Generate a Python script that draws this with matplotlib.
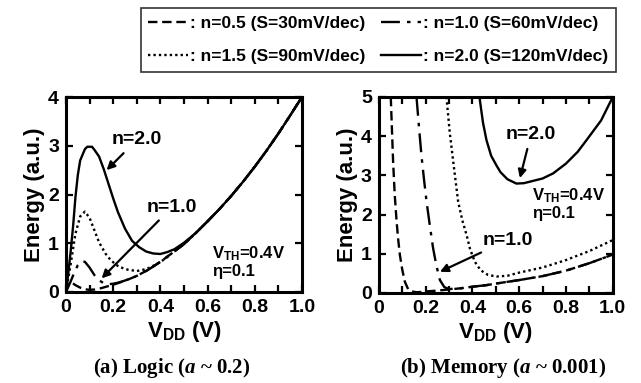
import matplotlib.pyplot as plt
from matplotlib.lines import Line2D

# ---- datos ----
# curva comun (todas las n convergen) - (a) Logic
comun_a_x = [0.55, 0.6, 0.65, 0.7, 0.75, 0.8, 0.85, 0.9, 0.95, 1.0]
comun_a_y = [1.21, 1.45, 1.7, 1.97, 2.26, 2.57, 2.9, 3.25, 3.62, 4.0]

a_n05_x = [0, 0.008, 0.015, 0.025, 0.04, 0.06, 0.08, 0.1, 0.12, 0.15, 0.2, 0.25, 0.3, 0.35, 0.4, 0.45, 0.5]
a_n05_y = [0, 0.15, 0.2, 0.19, 0.14, 0.09, 0.055, 0.045, 0.05, 0.08, 0.15, 0.23, 0.33, 0.46, 0.62, 0.8, 0.98]

a_n10_x = [0, 0.02, 0.035, 0.05, 0.065, 0.08, 0.1, 0.12, 0.14, 0.16, 0.18, 0.2, 0.22, 0.25, 0.3, 0.35, 0.4, 0.45, 0.5]
a_n10_y = [0, 0.22, 0.4, 0.55, 0.63, 0.62, 0.5, 0.35, 0.24, 0.18, 0.16, 0.17, 0.19, 0.235, 0.33, 0.46, 0.62, 0.8, 0.98]

a_n15_x = [0, 0.02, 0.04, 0.06, 0.08, 0.1, 0.12, 0.14, 0.167, 0.19, 0.223, 0.26, 0.3, 0.34, 0.38, 0.42, 0.46, 0.5]
a_n15_y = [0, 0.58, 1.2, 1.55, 1.65, 1.52, 1.27, 1.02, 0.79, 0.65, 0.52, 0.46, 0.43, 0.47, 0.56, 0.68, 0.84, 0.99]

a_n20_x = [0, 0.01, 0.02, 0.03, 0.04, 0.05, 0.06, 0.08, 0.09, 0.11, 0.12, 0.14, 0.16, 0.18, 0.2, 0.22,
           0.25, 0.28, 0.31, 0.34, 0.37, 0.4, 0.43, 0.46, 0.5]
a_n20_y = [0, 0.4, 0.85, 1.35, 1.95, 2.4, 2.7, 2.93, 2.98, 2.98, 2.92, 2.78, 2.52, 2.22, 1.92, 1.64,
           1.3, 1.05, 0.92, 0.83, 0.79, 0.78, 0.82, 0.88, 1.01]

# (b) Memory
comun_b_x = [0.35, 0.4, 0.46, 0.5, 0.6, 0.7, 0.8, 0.9, 1.0]
comun_b_y = [0.12, 0.16, 0.2, 0.24, 0.33, 0.43, 0.57, 0.76, 0.98]

b_n05_x = [0.051, 0.061, 0.068, 0.076, 0.083, 0.09, 0.1, 0.111, 0.125, 0.14, 0.16, 0.18, 0.2, 0.25, 0.3]
b_n05_y = [5.0, 3.35, 2.5, 1.82, 1.35, 0.97, 0.6, 0.29, 0.1, 0.04, 0.02, 0.025, 0.04, 0.06, 0.09]

b_n10_x = [0.161, 0.172, 0.182, 0.193, 0.204, 0.218, 0.232, 0.246, 0.261, 0.28, 0.3]
b_n10_y = [5.0, 4.2, 3.52, 2.9, 2.33, 1.72, 1.14, 0.7, 0.33, 0.15, 0.1]

b_n15_x = [0.289, 0.303, 0.318, 0.339, 0.357, 0.375, 0.39, 0.41, 0.435, 0.467, 0.503, 0.55, 0.6, 0.7, 0.8, 0.9, 1.0]
b_n15_y = [5.0, 4.1, 3.35, 2.33, 1.85, 1.48, 1.12, 0.8, 0.58, 0.46, 0.42, 0.44, 0.52, 0.65, 0.84, 1.07, 1.35]

b_n20_x = [0.43, 0.445, 0.46, 0.48, 0.503, 0.52, 0.55, 0.588, 0.62, 0.66, 0.7, 0.745, 0.8, 0.85, 0.888, 0.95, 1.0]
b_n20_y = [5.0, 4.35, 3.9, 3.5, 3.25, 3.08, 2.9, 2.79, 2.8, 2.86, 2.92, 3.05, 3.3, 3.6, 3.9, 4.4, 5.0]

etiquetas = [": n=0.5 (S=30mV/dec)", ": n=1.0 (S=60mV/dec)",
             ": n=1.5 (S=90mV/dec)", ": n=2.0 (S=120mV/dec)"]

estilos = [(0, (4, 2)), (0, (8, 3, 1.5, 3)), (0, (1, 1.3)), "-"]

plt.rcParams["font.family"] = "Liberation Sans"
plt.rcParams["font.weight"] = "bold"
plt.rcParams["mathtext.fontset"] = "custom"
plt.rcParams["mathtext.rm"] = "Liberation Serif:bold"
plt.rcParams["mathtext.sf"] = "Liberation Sans:bold"
plt.rcParams["mathtext.bf"] = "Liberation Sans:bold"
plt.rcParams["mathtext.it"] = "Liberation Serif:italic"


def preparar_ejes(ax, ymax):
    ax.set_xlim(0, 1.0)
    ax.set_ylim(0, ymax)
    ax.set_xticks([0, 0.2, 0.4, 0.6, 0.8, 1.0])
    ax.set_xticklabels(["0", "0.2", "0.4", "0.6", "0.8", "1.0"])
    ax.set_xticks([0.1, 0.3, 0.5, 0.7, 0.9], minor=True)
    ax.set_yticks(range(0, ymax + 1))
    ax.tick_params(which="both", direction="in", top=True, right=True,
                   length=5, width=1.6, labelsize=14, pad=5)
    for s in ax.spines.values():
        s.set_linewidth(2.2)
    ax.set_xlabel(r"$\mathsf{V_{DD}}$ (V)", fontsize=16, fontweight="bold", labelpad=2)
    ax.set_ylabel("Energy (a.u.)", fontsize=16, fontweight="bold", labelpad=2)


fig = plt.figure(figsize=(6.41, 3.83), dpi=100)
ax1 = fig.add_axes([0.103, 0.2376, 0.368, 0.509])
ax2 = fig.add_axes([0.591, 0.235, 0.365, 0.512])

lw = 1.7
series_a = [(a_n05_x, a_n05_y), (a_n10_x, a_n10_y), (a_n15_x, a_n15_y), (a_n20_x, a_n20_y)]
for (xs, ys), ls in zip(series_a, estilos):
    ax1.plot(xs + comun_a_x, ys + comun_a_y, color="k", lw=lw, linestyle=ls)

series_b = [(b_n05_x, b_n05_y), (b_n10_x, b_n10_y)]
for (xs, ys), ls in zip(series_b, estilos[:2]):
    ax2.plot(xs + comun_b_x, ys + comun_b_y, color="k", lw=lw, linestyle=ls)
ax2.plot(b_n15_x, b_n15_y, color="k", lw=lw, linestyle=estilos[2])
ax2.plot(b_n20_x, b_n20_y, color="k", lw=lw, linestyle=estilos[3])

preparar_ejes(ax1, 4)
preparar_ejes(ax2, 5)

flecha = dict(arrowstyle="-|>", color="k", lw=1.6, mutation_scale=12, shrinkA=2, shrinkB=0)
ax1.annotate("n=2.0", xy=(0.172, 2.5), xytext=(0.30, 3.12), fontsize=14, fontweight="bold",
             ha="center", va="center", arrowprops=flecha)
ax1.annotate("n=1.0", xy=(0.151, 0.28), xytext=(0.449, 1.74), fontsize=14, fontweight="bold",
             ha="center", va="center", arrowprops=flecha)
ax1.text(0.62, 0.63, r"$\mathsf{V_{TH}}$=0.4V" + "\n" + "η=0.1", fontsize=12, fontweight="bold",
         ha="left", va="center", linespacing=1.1)

ax2.annotate("n=2.0", xy=(0.603, 2.93), xytext=(0.65, 4.03), fontsize=14, fontweight="bold",
             ha="center", va="center", arrowprops=flecha)
ax2.annotate("n=1.0", xy=(0.261, 0.54), xytext=(0.551, 1.35), fontsize=14, fontweight="bold",
             ha="center", va="center", arrowprops=flecha)
ax2.text(0.655, 2.28, r"$\mathsf{V_{TH}}$=0.4V" + "\n" + "η=0.1", fontsize=12, fontweight="bold",
         ha="left", va="center", linespacing=1.1)

# leyenda comun arriba (orden por columnas para que las filas queden 0.5/1.0 y 1.5/2.0)
orden = [0, 2, 1, 3]
manijas = [Line2D([], [], color="k", lw=lw, linestyle=estilos[i]) for i in orden]
leg = fig.legend(manijas, [etiquetas[i] for i in orden], loc="center", bbox_to_anchor=(0.59, 0.8956),
                 ncol=2, frameon=True, fancybox=False, edgecolor="k", fontsize=12.5,
                 handlelength=2.3, handletextpad=0.1, columnspacing=0.9,
                 labelspacing=1.05, borderpad=0.45)
leg.get_frame().set_linewidth(1.2)
for t in leg.get_texts():
    t.set_fontweight("bold")

fig.text(0.268, 0.04, r"(a) Logic ($a$ ~ 0.2)", fontsize=15,
         fontfamily="Liberation Serif", fontweight="bold", ha="center", va="center")
fig.text(0.785, 0.04, r"(b) Memory ($a$ ~ 0.001)", fontsize=15,
         fontfamily="Liberation Serif", fontweight="bold", ha="center", va="center")

fig.savefig("out.png", dpi=100)
